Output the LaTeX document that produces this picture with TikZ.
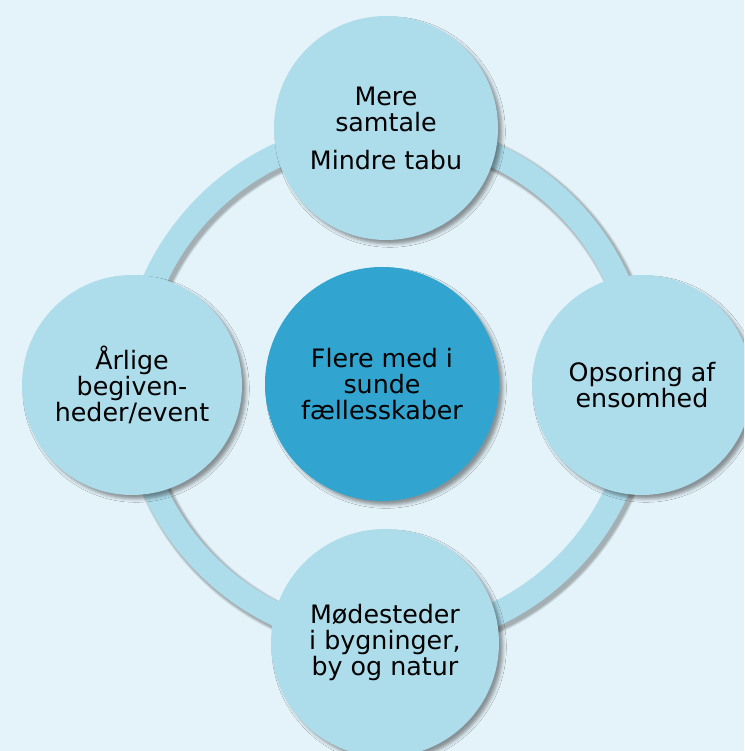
\documentclass[tikz,border=0pt]{standalone}
\usepackage{fontspec}
\setmainfont{DejaVu Sans}
\usetikzlibrary{shadows.blur}
\definecolor{bgblue}{HTML}{E4F3F9}
\definecolor{lightblue}{HTML}{ADDCEB}
\definecolor{midblue}{HTML}{31A5D0}
\tikzset{
  bubble/.style={circle, fill=lightblue, inner sep=0pt, align=center,
    minimum size={2*#1*0.75pt},
    font=\fontsize{19}{19.5}\selectfont,
    blur shadow={shadow xshift=3pt, shadow yshift=-3pt,
      shadow blur radius=2.5pt, shadow opacity=40}},
  hub/.style={bubble=#1, fill=midblue},
}

\begin{document}
\begin{tikzpicture}[x=0.75pt, y=0.75pt]
  % Background and frame
  \fill[bgblue] (0,0) rectangle (744,751);
  \useasboundingbox (0,0) rectangle (744,751);
  \clip (0,0) rectangle (744,751);
  % Ring behind the circles
  \coordinate (ring) at (386,366);
  \foreach \w in {1,...,6}
    \draw[black, opacity=0.05, line width={(24+\w)*0.75pt}]
      ([shift={(3,-3)}]ring) circle (254);
  \draw[lightblue, line width=18pt] (ring) circle (254);
  % Outer circles
  \node[bubble=112] (samtale) at (386,623)
    {Mere\\samtale\\[9pt]Mindre tabu};
  \node[bubble=110] (ensomhed) at (642,366)
    {Opsoring af\\ensomhed};
  \node[bubble=114] (moedested) at (385,108)
    {Mødesteder\\i bygninger,\\by og natur};
  \node[bubble=110] (event) at (132,366)
    {Årlige\\begiven-\\heder/event};
  % Centre circle
  \node[hub=117] (faelles) at (382,367)
    {Flere med i\\sunde\\fællesskaber};
\end{tikzpicture}
\end{document}
